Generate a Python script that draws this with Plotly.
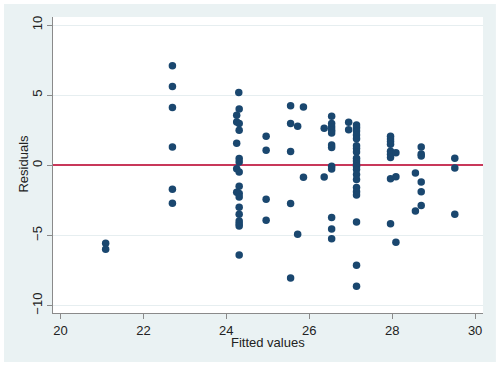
import plotly.graph_objects as go

fitted = (
    [21.09, 21.09]
    + [22.70] * 6
    + [24.30, 24.31, 24.25, 24.25, 24.31, 24.31, 24.25, 24.31, 24.31, 24.25,
       24.31, 24.31, 24.25, 24.31, 24.31, 24.31, 24.31, 24.31, 24.31, 24.31, 24.31]
    + [24.96] * 4
    + [25.55] * 5
    + [25.72, 25.72]
    + [25.86, 25.86]
    + [26.36, 26.36]
    + [26.54] * 12
    + [26.95, 26.95]
    + [27.14] * 21
    + [27.96] * 9
    + [28.09] * 3
    + [28.56] * 2
    + [28.70] * 6
    + [29.51] * 3
)
residuals = (
    [-5.56, -5.98]
    + [7.10, 5.61, 4.11, 1.30, -1.71, -2.71]
    + [5.18, 4.01, 3.56, 3.09, 2.97, 2.49, 1.57, 0.48, 0.24, -0.24,
       -0.48, -1.50, -1.92, -2.02, -2.26, -2.99, -3.49, -3.97, -4.16, -4.33, -6.39]
    + [2.07, 1.07, -2.42, -3.92]
    + [4.25, 2.97, 0.98, -2.73, -8.03]
    + [2.78, -4.92]
    + [4.16, -0.86]
    + [2.64, -0.83]
    + [3.49, 2.97, 2.73, 2.49, 2.30, 1.45, 1.26, -0.07, -0.26, -3.73, -4.54, -5.23]
    + [3.06, 2.54]
    + [2.87, 2.68, 2.44, 2.16, 1.90, 1.40, 1.20, 0.95, 0.50, 0.30, 0.10,
       -0.07, -0.30, -0.65, -1.02, -1.59, -1.88, -2.12, -4.04, -7.13, -8.62]
    + [2.07, 1.88, 1.69, 1.50, 1.00, 0.78, 0.55, -0.96, -4.16]
    + [0.90, -0.81, -5.49]
    + [-0.55, -3.26]
    + [1.30, 0.80, 0.67, -1.19, -1.88, -2.87]
    + [0.50, -0.19, -3.49]
)

x_ticks = [20, 22, 24, 26, 28, 30]
y_ticks = [-10, -5, 0, 5, 10]
x_title = "Fitted values"
y_title = "Residuals"

fig = go.Figure()
fig.add_trace(go.Scatter(
    x=fitted, y=residuals, mode="markers",
    marker=dict(color="#1a476f", size=7.5, line=dict(width=0)),
    showlegend=False, hoverinfo="skip",
))

fig.update_layout(
    width=500, height=366,
    margin=dict(l=53, r=17, t=17, b=53),
    paper_bgcolor="white",
    plot_bgcolor="rgba(0,0,0,0)",
    font=dict(family="Liberation Sans, Arial, sans-serif", size=13, color="#222"),
    shapes=[
        dict(type="rect", xref="paper", yref="paper",
             x0=-0.114, x1=1.030, y0=-0.1655, y1=1.044,
             fillcolor="#eaf2f3", line=dict(width=0), layer="below"),
        dict(type="rect", xref="paper", yref="paper",
             x0=0, x1=1, y0=0, y1=1,
             fillcolor="white", line=dict(width=0), layer="below"),
    ],
    annotations=[
        dict(text=x_title, xref="paper", yref="paper", x=0.5, y=-0.098,
             xanchor="center", yanchor="middle", showarrow=False,
             font=dict(size=13, color="#222")),
        dict(text=y_title, xref="paper", yref="paper", x=-0.0674, y=0.505,
             xanchor="center", yanchor="middle", showarrow=False, textangle=-90,
             font=dict(size=13, color="#222")),
    ],
    xaxis=dict(
        range=[19.82, 30.19], tickvals=x_ticks, showgrid=False, zeroline=False,
        showline=True, linecolor="#8a8a8a", linewidth=1.2,
        ticks="outside", ticklen=5, tickcolor="#8a8a8a",
        tickfont=dict(size=13), automargin=False,
    ),
    yaxis=dict(
        range=[-10.53, 10.57], tickvals=y_ticks, tickangle=-90,
        showgrid=True, gridcolor="#e6eef0", gridwidth=1,
        zeroline=True, zerolinecolor="#c8385a", zerolinewidth=2,
        showline=True, linecolor="#8a8a8a", linewidth=1.2,
        ticks="outside", ticklen=5, tickcolor="#8a8a8a",
        tickfont=dict(size=13), automargin=False,
    ),
)

fig.write_html("out.html",
               config={"displayModeBar": False},
               post_script="document.body.style.margin='0';")
